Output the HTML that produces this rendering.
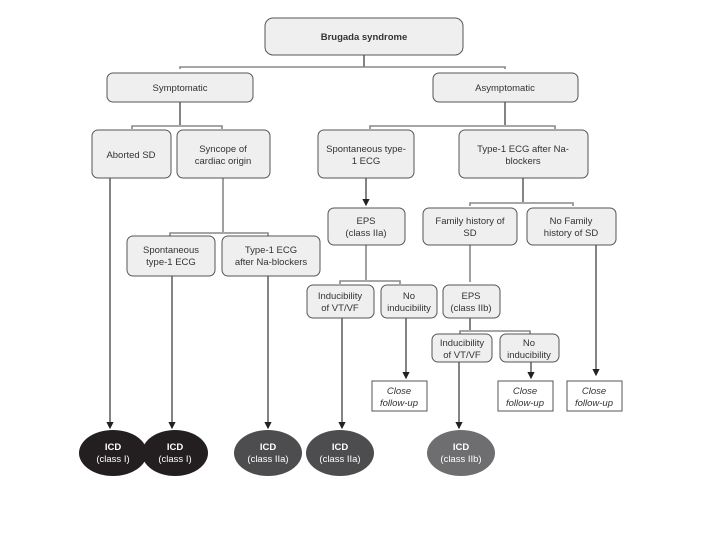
<!DOCTYPE html>
<html><head><meta charset="utf-8"><style>
html,body{margin:0;padding:0;background:#fff;}
svg{display:block}
text{font-family:"Liberation Sans",sans-serif;font-size:9.5px;fill:#333;text-anchor:middle}
.b{fill:#efefef;stroke:#555;stroke-width:1}
.l{stroke:#333;stroke-width:1.2;fill:none}
.g{stroke:#888;stroke-width:1.6;fill:none}
.w{fill:#fff}
</style></head><body>
<svg width="720" height="540" viewBox="0 0 720 540" xmlns="http://www.w3.org/2000/svg">
<defs><marker id="a" markerWidth="6" markerHeight="6" refX="5" refY="3" orient="auto"><path d="M0,0 L6,3 L0,6z" fill="#222"/></marker></defs>
<!-- connectors -->
<path class="l" d="M364,55 V67"/>
<path class="g" d="M180,69 V67 H505 V69"/>
<path class="l" d="M180,102 V125"/>
<path class="g" d="M132,129 V126 H222 V129"/>
<path class="l" d="M505,102 V125"/>
<path class="g" d="M370,129 V126 H555 V129"/>
<path class="l" d="M366,178 V205" marker-end="url(#a)"/>
<path class="l" d="M523,178 V202"/>
<path class="g" d="M470,206 V203 H573 V206"/>
<path class="g" d="M223,178 V232"/>
<path class="g" d="M170,236 V233 H268 V236"/>
<path class="g" d="M366,245 V280"/>
<path class="g" d="M340,284 V281 H400 V284"/>
<path class="g" d="M470,245 V282"/>
<path class="l" d="M470,318 V330"/>
<path class="g" d="M460,334 V331 H530 V334"/>
<path class="l" d="M110,178 V428" marker-end="url(#a)"/>
<path class="l" d="M172,276 V428" marker-end="url(#a)"/>
<path class="l" d="M268,276 V428" marker-end="url(#a)"/>
<path class="l" d="M342,318 V428" marker-end="url(#a)"/>
<path class="l" d="M459,362 V428" marker-end="url(#a)"/>
<path class="l" d="M406,318 V378" marker-end="url(#a)"/>
<path class="l" d="M531,362 V378" marker-end="url(#a)"/>
<path class="l" d="M596,245 V375" marker-end="url(#a)"/>
<!-- boxes -->
<rect class="b" x="265" y="18" width="198" height="37" rx="8"/>
<text x="364" y="40" style="font-weight:bold">Brugada syndrome</text>
<rect class="b" x="107" y="73" width="146" height="29" rx="6"/>
<text x="180" y="91">Symptomatic</text>
<rect class="b" x="433" y="73" width="145" height="29" rx="6"/>
<text x="505" y="91">Asymptomatic</text>
<rect class="b" x="92" y="130" width="79" height="48" rx="6"/>
<text x="131" y="158">Aborted SD</text>
<rect class="b" x="177" y="130" width="93" height="48" rx="6"/>
<text x="223" y="152">Syncope of</text><text x="223" y="164">cardiac origin</text>
<rect class="b" x="318" y="130" width="96" height="48" rx="6"/>
<text x="366" y="152">Spontaneous type-</text><text x="366" y="164">1 ECG</text>
<rect class="b" x="459" y="130" width="129" height="48" rx="6"/>
<text x="523" y="152">Type-1 ECG after Na-</text><text x="523" y="164">blockers</text>
<rect class="b" x="328" y="208" width="77" height="37" rx="6"/>
<text x="366" y="224">EPS</text><text x="366" y="236">(class IIa)</text>
<rect class="b" x="423" y="208" width="94" height="37" rx="6"/>
<text x="470" y="224">Family history of</text><text x="470" y="236">SD</text>
<rect class="b" x="527" y="208" width="89" height="37" rx="6"/>
<text x="571" y="224">No Family</text><text x="571" y="236">history of SD</text>
<rect class="b" x="127" y="236" width="88" height="40" rx="6"/>
<text x="171" y="253">Spontaneous</text><text x="171" y="265">type-1 ECG</text>
<rect class="b" x="222" y="236" width="98" height="40" rx="6"/>
<text x="271" y="253">Type-1 ECG</text><text x="271" y="265">after Na-blockers</text>
<rect class="b" x="307" y="285" width="67" height="33" rx="6"/>
<text x="340" y="299">Inducibility</text><text x="340" y="311">of VT/VF</text>
<rect class="b" x="381" y="285" width="56" height="33" rx="6"/>
<text x="409" y="299">No</text><text x="409" y="311">inducibility</text>
<rect class="b" x="443" y="285" width="57" height="33" rx="6"/>
<text x="471" y="299">EPS</text><text x="471" y="311">(class IIb)</text>
<rect class="b" x="432" y="334" width="60" height="28" rx="6"/>
<text x="462" y="346">Inducibility</text><text x="462" y="358">of VT/VF</text>
<rect class="b" x="500" y="334" width="59" height="28" rx="6"/>
<text x="529" y="346">No</text><text x="529" y="358">inducibility</text>
<rect class="w" x="372" y="381" width="55" height="30" stroke="#555" stroke-width="1"/>
<text x="399" y="394" font-style="italic">Close</text><text x="399" y="406" font-style="italic">follow-up</text>
<rect class="w" x="498" y="381" width="55" height="30" stroke="#555" stroke-width="1"/>
<text x="525" y="394" font-style="italic">Close</text><text x="525" y="406" font-style="italic">follow-up</text>
<rect class="w" x="567" y="381" width="55" height="30" stroke="#555" stroke-width="1"/>
<text x="594" y="394" font-style="italic">Close</text><text x="594" y="406" font-style="italic">follow-up</text>
<!-- ellipses -->
<g style="font-weight:bold">
<ellipse cx="113" cy="453" rx="34" ry="23" fill="#231f20"/>
<text x="113" y="450" style="fill:#fff">ICD</text><text x="113" y="462" style="fill:#fff;font-weight:normal">(class I)</text>
<ellipse cx="175" cy="453" rx="33" ry="23" fill="#231f20"/>
<text x="175" y="450" style="fill:#fff">ICD</text><text x="175" y="462" style="fill:#fff;font-weight:normal">(class I)</text>
<ellipse cx="268" cy="453" rx="34" ry="23" fill="#4d4d4f"/>
<text x="268" y="450" style="fill:#fff">ICD</text><text x="268" y="462" style="fill:#fff;font-weight:normal">(class IIa)</text>
<ellipse cx="340" cy="453" rx="34" ry="23" fill="#4d4d4f"/>
<text x="340" y="450" style="fill:#fff">ICD</text><text x="340" y="462" style="fill:#fff;font-weight:normal">(class IIa)</text>
<ellipse cx="461" cy="453" rx="34" ry="23" fill="#6e6e70"/>
<text x="461" y="450" style="fill:#fff">ICD</text><text x="461" y="462" style="fill:#fff;font-weight:normal">(class IIb)</text>
</g>
</svg>
</body></html>
